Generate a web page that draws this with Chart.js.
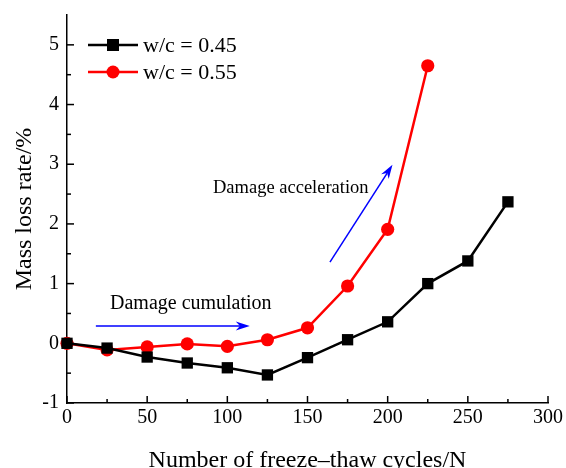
<!DOCTYPE html>
<html>
<head>
<meta charset="utf-8">
<script src="https://cdn.jsdelivr.net/npm/chart.js@4"></script>
<style>
  html, body { margin: 0; padding: 0; background: #fff; }
  #wrap { width: 566px; height: 468px; }
</style>
</head>
<body>
<div id="wrap"><canvas id="massChart"></canvas></div>
<script>
// freeze-thaw cycles
const cycles45 = [0, 25, 50, 75, 100, 125, 150, 175, 200, 225, 250, 275];
const cycles55 = [0, 25, 50, 75, 100, 125, 150, 175, 200, 225];
// mass loss rate (%)
const loss45 = [0, -0.08, -0.23, -0.33, -0.41, -0.53, -0.24, 0.06, 0.36, 1.0, 1.38, 2.37];
const loss55 = [0, -0.11, -0.06, -0.01, -0.05, 0.06, 0.26, 0.96, 1.91, 4.65];
const seriesLabels = ['w/c = 0.45', 'w/c = 0.55'];
// annotation arrows, in data units [x1, y1, x2, y2]
const arrowCumulation = [18, 0.29, 114, 0.29];
const arrowAcceleration = [164, 1.36, 203, 2.99];
const noteLabels = ['Damage cumulation', 'Damage acceleration'];

const serif = "'Liberation Serif', 'Times New Roman', serif";

function drawArrow(ctx, x1, y1, x2, y2) {
    const ang = Math.atan2(y2 - y1, x2 - x1);
    const head = 14, wing = 4.5;
    ctx.save();
    ctx.strokeStyle = '#0000ff';
    ctx.fillStyle = '#0000ff';
    ctx.lineWidth = 1.5;
    ctx.beginPath();
    ctx.moveTo(x1, y1);
    ctx.lineTo(x2 - Math.cos(ang) * head * 0.7, y2 - Math.sin(ang) * head * 0.7);
    ctx.stroke();
    ctx.beginPath();
    ctx.moveTo(x2, y2);
    ctx.lineTo(x2 - Math.cos(ang) * head - Math.sin(ang) * wing, y2 - Math.sin(ang) * head + Math.cos(ang) * wing);
    ctx.lineTo(x2 - Math.cos(ang) * head * 0.7, y2 - Math.sin(ang) * head * 0.7);
    ctx.lineTo(x2 - Math.cos(ang) * head + Math.sin(ang) * wing, y2 - Math.sin(ang) * head - Math.cos(ang) * wing);
    ctx.closePath();
    ctx.fill();
    ctx.restore();
}

// inward ticks (major + minor), drawn under the points
const innerTicks = {
    id: 'innerTicks',
    beforeDatasetsDraw(chart) {
        const ctx = chart.ctx;
        const xs = chart.scales.x, ys = chart.scales.y;
        const area = chart.chartArea;
        ctx.save();
        ctx.strokeStyle = '#000';
        ctx.lineWidth = 1.5;
        for (let v = 0; v <= 300; v += 25) {
            const px = xs.getPixelForValue(v);
            const len = v % 50 === 0 ? 7 : 4;
            ctx.beginPath();
            ctx.moveTo(px, area.bottom);
            ctx.lineTo(px, area.bottom - len);
            ctx.stroke();
        }
        for (let v = -1; v <= 5; v += 0.5) {
            const py = ys.getPixelForValue(v);
            const len = Number.isInteger(v) ? 7 : 4;
            ctx.beginPath();
            ctx.moveTo(area.left, py);
            ctx.lineTo(area.left + len, py);
            ctx.stroke();
        }
        ctx.restore();
    }
};

// annotations and legend drawn on top
const extras = {
    id: 'extras',
    afterDraw(chart) {
        const ctx = chart.ctx;
        const xs = chart.scales.x, ys = chart.scales.y;

        drawArrow(ctx, xs.getPixelForValue(arrowCumulation[0]), ys.getPixelForValue(arrowCumulation[1]),
            xs.getPixelForValue(arrowCumulation[2]), ys.getPixelForValue(arrowCumulation[3]));
        drawArrow(ctx, xs.getPixelForValue(arrowAcceleration[0]), ys.getPixelForValue(arrowAcceleration[1]),
            xs.getPixelForValue(arrowAcceleration[2]), ys.getPixelForValue(arrowAcceleration[3]));

        ctx.save();
        ctx.fillStyle = '#000';
        ctx.textAlign = 'left';
        ctx.textBaseline = 'middle';
        ctx.font = '20px ' + serif;
        ctx.fillText(noteLabels[0], 110, 304);
        ctx.font = '18.5px ' + serif;
        ctx.fillText(noteLabels[1], 213, 188);
        ctx.restore();

        // legend
        const rows = [
            { y: 45, color: '#000', style: 'rect' },
            { y: 72, color: '#ff0000', style: 'circle' }
        ];
        ctx.save();
        rows.forEach((r, i) => {
            ctx.strokeStyle = r.color;
            ctx.fillStyle = r.color;
            ctx.lineWidth = 2.5;
            ctx.beginPath();
            ctx.moveTo(88, r.y);
            ctx.lineTo(138, r.y);
            ctx.stroke();
            if (r.style === 'rect') {
                ctx.fillRect(107, r.y - 6, 12, 12);
            } else {
                ctx.beginPath();
                ctx.arc(113, r.y, 6.5, 0, Math.PI * 2);
                ctx.fill();
            }
            ctx.fillStyle = '#000';
            ctx.font = '22px ' + serif;
            ctx.textBaseline = 'middle';
            ctx.fillText(seriesLabels[i], 143, r.y + 1);
        });
        ctx.restore();
    }
};

new Chart(document.getElementById('massChart'), {
    type: 'line',
    data: {
        datasets: [{
            label: seriesLabels[0],
            data: cycles45.map((c, i) => ({ x: c, y: loss45[i] })),
            borderColor: '#000',
            backgroundColor: '#000',
            borderWidth: 2.5,
            pointStyle: 'rect',
            pointRadius: 8,
            pointBorderWidth: 0,
            tension: 0,
            clip: false
        }, {
            label: seriesLabels[1],
            data: cycles55.map((c, i) => ({ x: c, y: loss55[i] })),
            borderColor: '#ff0000',
            backgroundColor: '#ff0000',
            borderWidth: 2.5,
            pointStyle: 'circle',
            pointRadius: 6.6,
            pointBorderWidth: 0,
            tension: 0,
            clip: false
        }]
    },
    options: {
        responsive: true,
        maintainAspectRatio: false,
        animation: false,
        layout: { padding: { top: 15, right: 17, left: 0, bottom: 0 } },
        plugins: {
            legend: { display: false },
            tooltip: { enabled: false }
        },
        scales: {
            x: {
                type: 'linear',
                min: 0,
                max: 300,
                afterFit: s => { s.height = 65; },
                border: { display: true, color: '#000', width: 1.5 },
                grid: { display: true, drawOnChartArea: false, drawTicks: false },
                ticks: {
                    stepSize: 50,
                    color: '#000',
                    padding: 3,
                    maxRotation: 0,
                    font: { family: serif, size: 20 }
                },
                title: {
                    display: true,
                    text: 'Number of freeze\u2013thaw cycles/N',
                    color: '#000',
                    font: { family: serif, size: 24 },
                    padding: { top: 0, bottom: -7 }
                }
            },
            y: {
                min: -1,
                max: 5.5,
                afterFit: s => { s.width = 67; s.paddingTop = 0; s.paddingBottom = 0; },
                border: { display: true, color: '#000', width: 1.5 },
                grid: { display: true, drawOnChartArea: false, drawTicks: false },
                ticks: {
                    stepSize: 1,
                    includeBounds: false,
                    color: '#000',
                    padding: 8,
                    font: { family: serif, size: 20 }
                },
                title: {
                    display: true,
                    text: 'Mass loss rate/%',
                    color: '#000',
                    font: { family: serif, size: 24 },
                    padding: { top: 10, bottom: 0 }
                }
            }
        }
    },
    plugins: [innerTicks, extras]
});
</script>
</body>
</html>
